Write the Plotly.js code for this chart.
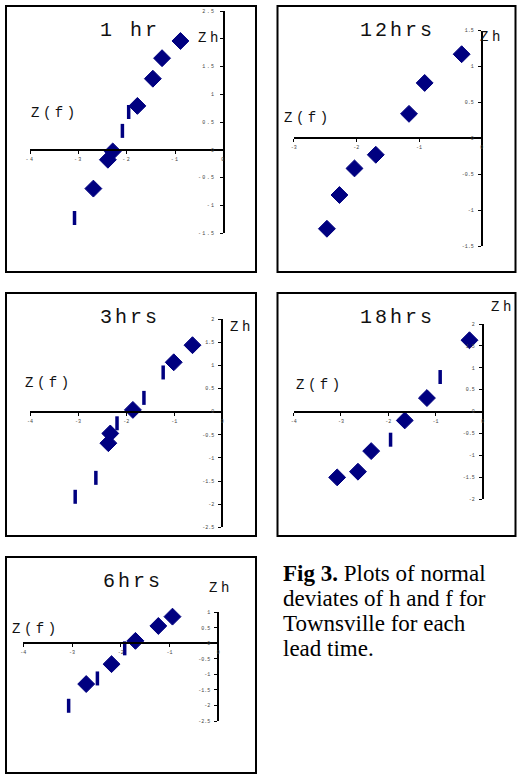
<!DOCTYPE html>
<html>
<head>
<meta charset="utf-8">
<script src="https://cdn.plot.ly/plotly-3.0.1.min.js"></script>
<style>
html,body{margin:0;padding:0;background:#fff;}
#chart{width:517px;height:776px;}
.xtick text,.ytick text{letter-spacing:1.4px;}
</style>
</head>
<body>
<div id="chart"></div>
<script>
// ---- data ----
// mark: 'd' = diamond, 'b' = thin vertical bar
const hr1_zf   = [-3.08, -2.69, -2.39, -2.29, -2.09, -1.96, -1.78, -1.46, -1.27, -0.89];
const hr1_zh   = [-1.23, -0.70, -0.18, -0.03,  0.34,  0.68,  0.79,  1.28,  1.65,  1.96];
const hr1_mark = ['b', 'd', 'd', 'd', 'b', 'b', 'd', 'd', 'd', 'd'];

const hr12_zf   = [-2.47, -2.27, -2.03, -1.69, -1.16, -0.91, -0.32];
const hr12_zh   = [-1.26, -0.79, -0.42, -0.23,  0.34,  0.77,  1.17];
const hr12_mark = ['d', 'd', 'd', 'd', 'd', 'd', 'd'];

const hr3_zf   = [-3.06, -2.63, -2.37, -2.33, -2.19, -1.86, -1.63, -1.23, -1.01, -0.62];
const hr3_zh   = [-1.84, -1.43, -0.68, -0.47, -0.25,  0.04,  0.30,  0.85,  1.07,  1.44];
const hr3_mark = ['b', 'b', 'd', 'd', 'b', 'd', 'b', 'b', 'd', 'd'];

const hr18_zf   = [-3.08, -2.64, -2.36, -1.95, -1.65, -1.18, -0.90, -0.28];
const hr18_zh   = [-1.50, -1.37, -0.90, -0.64, -0.20,  0.31,  0.79,  1.63];
const hr18_mark = ['d', 'd', 'd', 'b', 'd', 'd', 'b', 'd'];

const hr6_zf   = [-3.07, -2.71, -2.48, -2.19, -1.92, -1.70, -1.23, -0.94];
const hr6_zh   = [-2.01, -1.31, -1.13, -0.67, -0.16,  0.08,  0.56,  0.86];
const hr6_mark = ['b', 'd', 'b', 'd', 'b', 'd', 'd', 'd'];

// ---- tick labels ----
const xTicks4     = [-4, -3, -2, -1, 0];
const xTickText4  = ['-4', '-3', '-2', '-1', '0'];
const xTicks3     = [-3, -2, -1, 0];
const xTickText3  = ['-3', '-2', '-1', '0'];
const yTicks1     = [-1.5, -1, -0.5, 0, 0.5, 1, 1.5, 2, 2.5];
const yTickText1  = ['-1.5', '-1', '-0.5', '0', '0.5', '1', '1.5', '', '2.5']; // "2" hidden under the Zh label
const yTicks12    = [-1.5, -1, -0.5, 0, 0.5, 1, 1.5];
const yTickText12 = ['-1.5', '-1', '-0.5', '0', '0.5', '1', '1.5'];
const yTicks3     = [-2.5, -2, -1.5, -1, -0.5, 0, 0.5, 1, 1.5, 2];
const yTickText3  = ['-2.5', '-2', '-1.5', '-1', '-0.5', '0', '0.5', '1', '1.5', '2'];
const yTicks18    = [-2, -1.5, -1, -0.5, 0, 0.5, 1, 1.5, 2];
const yTickText18 = ['-2', '-1.5', '-1', '-0.5', '0', '0.5', '1', '1.5', '2'];
const yTicks6     = [-2.5, -2, -1.5, -1, -0.5, 0, 0.5, 1];
const yTickText6  = ['-2.5', '-2', '-1.5', '-1', '-0.5', '0', '0.5', '1'];

const panelTitles = ['1 hr', '12hrs', '3hrs', '18hrs', '6hrs'];
const xLabel = 'Z(f)';
const yLabel = 'Zh';
const captionLines = ['<b>Fig 3.</b> Plots of normal', 'deviates of h and f for', 'Townsville for each', 'lead time.'];

// ---- layout config (pixels) ----
const W = 517, H = 776;
const NAVY = '#000080';
const MONO = '"Liberation Mono", "DejaVu Sans Mono", monospace';
const SERIF = '"Liberation Serif", "DejaVu Serif", serif';

const panels = [
  {zf: hr1_zf, zh: hr1_zh, mark: hr1_mark, xr: [-4, 0], yr: [-1.5, 2.5], xt: xTicks4, xtt: xTickText4, yt: yTicks1, ytt: yTickText1,
   plot: [30, 223.5, 11, 233], frame: [6, 256, 6, 272], title: [130, 31], zh_at: [196, 38], zf_at: [29, 113]},
  {zf: hr12_zf, zh: hr12_zh, mark: hr12_mark, xr: [-3, 0], yr: [-1.5, 1.5], xt: xTicks3, xtt: xTickText3, yt: yTicks12, ytt: yTickText12,
   plot: [293.7, 481.7, 30.5, 246], frame: [277.5, 515.5, 6, 272], title: [397, 31], zh_at: [478, 37], zf_at: [282, 118]},
  {zf: hr3_zf, zh: hr3_zh, mark: hr3_mark, xr: [-4, 0], yr: [-2.5, 2], xt: xTicks4, xtt: xTickText4, yt: yTicks3, ytt: yTickText3,
   plot: [30, 222.3, 319.3, 527.3], frame: [6, 256, 293, 536], title: [130, 317], zh_at: [228, 327], zf_at: [23, 383]},
  {zf: hr18_zf, zh: hr18_zh, mark: hr18_mark, xr: [-4, 0], yr: [-2, 2], xt: xTicks4, xtt: xTickText4, yt: yTicks18, ytt: yTickText18,
   plot: [293.7, 482.7, 324, 499.3], frame: [277.5, 515.5, 293, 536], title: [397, 317], zh_at: [489, 307], zf_at: [294, 385]},
  {zf: hr6_zf, zh: hr6_zh, mark: hr6_mark, xr: [-4, 0], yr: [-2.5, 1], xt: xTicks4, xtt: xTickText4, yt: yTicks6, ytt: yTickText6,
   plot: [23.3, 218.3, 612.3, 721], frame: [6, 256, 557, 773], title: [133, 581], zh_at: [207, 588], zf_at: [10, 629]}
];

const px = v => v / W;
const py = v => 1 - v / H;

const data = [];
const layout = {
  width: W, height: H,
  margin: {l: 0, r: 0, t: 0, b: 0},
  paper_bgcolor: '#fff', plot_bgcolor: 'rgba(0,0,0,0)',
  showlegend: false,
  shapes: [], annotations: []
};

panels.forEach((p, i) => {
  const n = i === 0 ? '' : String(i + 1);
  const xa = 'x' + n, ya = 'y' + n;
  const xd = [px(p.plot[0]), px(p.plot[1])];
  const yd = [py(p.plot[3]), py(p.plot[2])];
  const yZero = yd[0] + (0 - p.yr[0]) / (p.yr[1] - p.yr[0]) * (yd[1] - yd[0]);

  const dIdx = p.mark.map((m, k) => m === 'd' ? k : -1).filter(k => k >= 0);
  const bIdx = p.mark.map((m, k) => m === 'b' ? k : -1).filter(k => k >= 0);
  data.push({
    type: 'scatter', mode: 'markers', xaxis: xa, yaxis: ya, hoverinfo: 'skip', cliponaxis: false,
    x: bIdx.map(k => p.zf[k]), y: bIdx.map(k => p.zh[k]),
    marker: {symbol: 'line-ns', size: 10, color: NAVY, line: {color: NAVY, width: 3.5}}
  });
  data.push({
    type: 'scatter', mode: 'markers', xaxis: xa, yaxis: ya, hoverinfo: 'skip', cliponaxis: false,
    x: dIdx.map(k => p.zf[k]), y: dIdx.map(k => p.zh[k]),
    marker: {symbol: 'diamond', size: 13, color: NAVY, line: {color: NAVY, width: 1}}
  });

  layout['xaxis' + n] = {
    domain: xd, range: p.xr, anchor: 'free', position: yZero,
    showline: true, linecolor: '#000', linewidth: 2,
    ticks: 'outside', ticklen: 3, tickwidth: 1, tickcolor: '#000',
    tickmode: 'array', tickvals: p.xt, ticktext: p.xtt, ticklabelstandoff: 1,
    tickfont: {family: MONO, size: 5, color: '#444'},
    showgrid: false, zeroline: false, fixedrange: true
  };
  layout['yaxis' + n] = {
    domain: yd, range: p.yr, anchor: 'free', position: xd[1], side: 'left',
    showline: true, linecolor: '#000', linewidth: 2,
    ticks: 'outside', ticklen: 3, tickwidth: 1, tickcolor: '#000',
    tickmode: 'array', tickvals: p.yt, ticktext: p.ytt, ticklabelstandoff: 3,
    tickfont: {family: MONO, size: 5, color: '#444'},
    showgrid: false, zeroline: false, fixedrange: true
  };

  layout.shapes.push({
    type: 'rect', xref: 'paper', yref: 'paper',
    x0: px(p.frame[0]), x1: px(p.frame[1]), y0: py(p.frame[3]), y1: py(p.frame[2]),
    line: {color: '#000', width: 2}, fillcolor: 'rgba(0,0,0,0)', layer: 'below'
  });

  layout.annotations.push({
    xref: 'paper', yref: 'paper', x: px(p.title[0]), y: py(p.title[1]),
    xanchor: 'center', yanchor: 'middle', showarrow: false,
    text: '<span style="letter-spacing:3px">' + panelTitles[i] + '</span>',
    font: {family: MONO, size: 20, color: '#111'}
  });
  layout.annotations.push({
    xref: 'paper', yref: 'paper', x: px(p.zh_at[0]), y: py(p.zh_at[1]),
    xanchor: 'left', yanchor: 'middle', showarrow: false,
    text: '<span style="letter-spacing:3.5px">' + yLabel + '</span>',
    font: {family: MONO, size: 14, color: '#111'}
  });
  layout.annotations.push({
    xref: 'paper', yref: 'paper', x: px(p.zf_at[0]), y: py(p.zf_at[1]),
    xanchor: 'left', yanchor: 'middle', showarrow: false,
    text: '<span style="letter-spacing:3.5px">' + xLabel + '</span>',
    font: {family: MONO, size: 14, color: '#111'}
  });
});

const captionY = [573, 598, 623, 648];
captionLines.forEach((t, k) => {
  layout.annotations.push({
    xref: 'paper', yref: 'paper', x: px(281), y: py(captionY[k]),
    xanchor: 'left', yanchor: 'middle', showarrow: false, align: 'left',
    text: t, font: {family: SERIF, size: 23, color: '#000'}
  });
});

Plotly.newPlot('chart', data, layout, {staticPlot: true, displayModeBar: false});
</script>
</body>
</html>
